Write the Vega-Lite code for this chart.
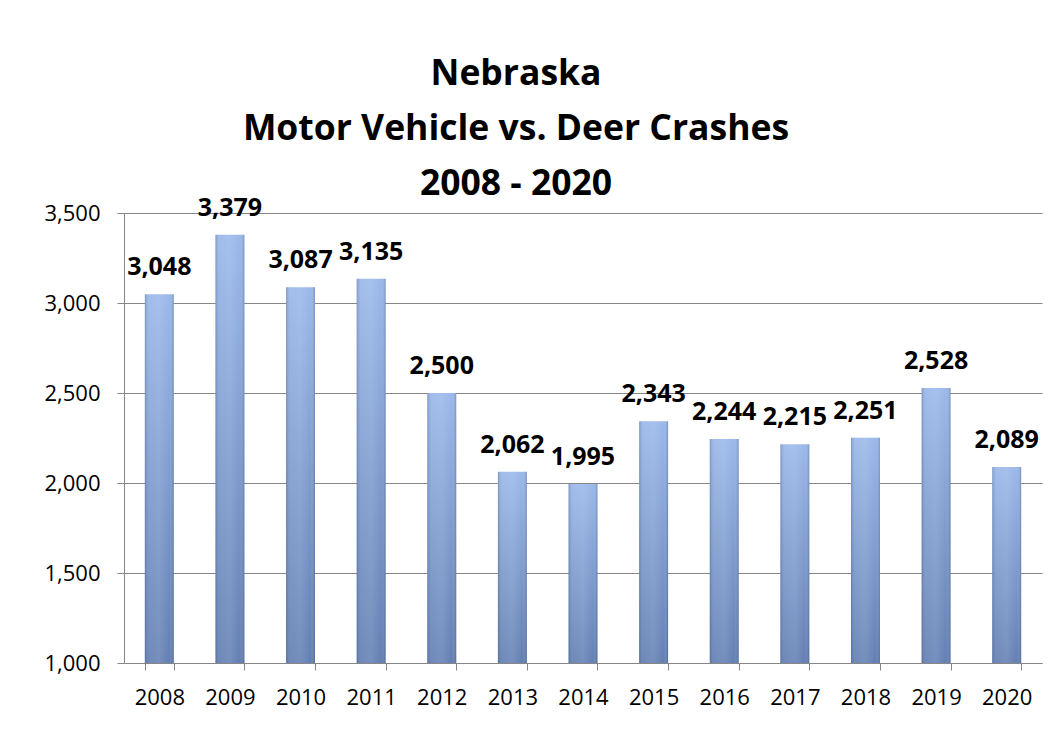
{
  "$schema": "https://vega.github.io/schema/vega-lite/v6.json",
  "width": 918,
  "height": 450,
  "autosize": "none",
  "padding": {"left": 124, "top": 213, "right": 15, "bottom": 92},
  "background": "white",
  "title": {
    "text": ["Nebraska", "Motor Vehicle vs. Deer Crashes", "2008 - 2020"],
    "font": "Open Sans",
    "fontSize": 35.5,
    "fontWeight": "bold",
    "lineHeight": 55,
    "color": "#000000",
    "anchor": "middle",
    "frame": "group",
    "dx": -67,
    "dy": 17,
    "offset": 10
  },
  "config": {
    "view": {"stroke": null},
    "axis": {"labelFont": "Open Sans", "labelColor": "#000000"}
  },
  "data": {
    "values": [
      {"year": "2008", "crashes": 3048},
      {"year": "2009", "crashes": 3379},
      {"year": "2010", "crashes": 3087},
      {"year": "2011", "crashes": 3135},
      {"year": "2012", "crashes": 2500},
      {"year": "2013", "crashes": 2062},
      {"year": "2014", "crashes": 1995},
      {"year": "2015", "crashes": 2343},
      {"year": "2016", "crashes": 2244},
      {"year": "2017", "crashes": 2215},
      {"year": "2018", "crashes": 2251},
      {"year": "2019", "crashes": 2528},
      {"year": "2020", "crashes": 2089}
    ]
  },
  "encoding": {
    "x": {
      "field": "year",
      "type": "ordinal",
      "scale": {"paddingInner": 0.59, "paddingOuter": 0.295},
      "axis": {
        "title": null,
        "labelAngle": 0,
        "labelFontSize": 22,
        "labelPadding": 17,
        "tickBand": "extent",
        "tickSize": 7,
        "tickColor": "#868686",
        "domainColor": "#868686",
        "grid": false
      }
    },
    "y": {
      "field": "crashes",
      "type": "quantitative",
      "scale": {"domain": [1000, 3500], "zero": false, "nice": false},
      "axis": {
        "title": null,
        "values": [1000, 1500, 2000, 2500, 3000, 3500],
        "format": ",d",
        "labelFontSize": 22,
        "labelPadding": 17,
        "tickSize": 7,
        "tickColor": "#868686",
        "domainColor": "#868686",
        "gridColor": "#868686",
        "gridWidth": 1
      }
    }
  },
  "layer": [
    {
      "mark": {
        "type": "bar",
        "fill": {
          "gradient": "linear", "x1": 0, "y1": 0, "x2": 0, "y2": 1,
          "stops": [
            {"offset": 0, "color": "#9ab8ea"},
            {"offset": 1, "color": "#637fb3"}
          ]
        }
      },
      "encoding": {"y2": {"datum": 1000}}
    },
    {
      "mark": {
        "type": "bar",
        "fill": {
          "gradient": "linear", "x1": 0, "y1": 0, "x2": 1, "y2": 0,
          "stops": [
            {"offset": 0, "color": "rgba(40,60,100,0.25)"},
            {"offset": 0.15, "color": "rgba(255,255,255,0.08)"},
            {"offset": 0.5, "color": "rgba(255,255,255,0.12)"},
            {"offset": 0.85, "color": "rgba(255,255,255,0.0)"},
            {"offset": 1, "color": "rgba(40,60,100,0.3)"}
          ]
        }
      },
      "encoding": {"y2": {"datum": 1000}}
    },
    {
      "mark": {
        "type": "text",
        "font": "Open Sans",
        "fontSize": 25,
        "fontWeight": "bold",
        "baseline": "middle",
        "dy": -27,
        "color": "#000000"
      },
      "encoding": {"text": {"field": "crashes", "type": "quantitative", "format": ",d"}}
    }
  ]
}
